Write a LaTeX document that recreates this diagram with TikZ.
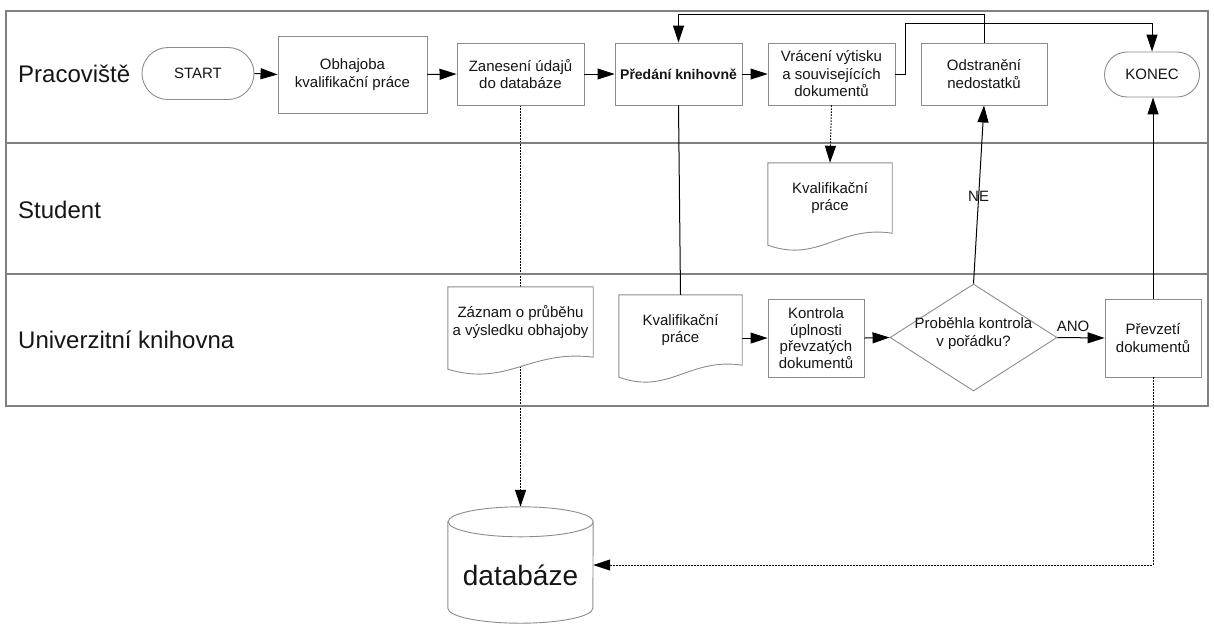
\documentclass[tikz,border=0pt]{standalone}
\usepackage{fontspec}
\setmainfont{Liberation Sans}
\usetikzlibrary{arrows.meta,shapes.geometric,shapes.misc,calc}
\pgfdeclarelayer{bg}
\pgfdeclarelayer{mid}
\pgfsetlayers{bg,mid,main}
\definecolor{frameg}{HTML}{808080}
\definecolor{boxg}{HTML}{8C8C8C}
\definecolor{txt}{HTML}{151515}
\newcommand\bxfont{\fontsize{15}{17.5}\selectfont}
\newcommand\docoutline[2]{%
  \draw[docline] (#1.north west) -- (#1.north east) -- (#1.south east)
    .. controls ($(#1.south west)+(0.57*#2,-8)$) and ($(#1.south west)+(0.41*#2,30)$) ..
    ($(#1.south west)+(0,12)$) -- cycle;}
\begin{document}
\begin{tikzpicture}[x=1pt,y=-1pt,
  frame/.style={draw=frameg,line width=1.4pt},
  proc/.style={rectangle,draw=boxg,line width=0.9pt,fill=white,inner sep=0pt,align=center,font=\bxfont,text=txt},
  term/.style={rounded rectangle,draw=boxg,line width=0.9pt,fill=white,inner sep=0pt,font=\bxfont,text=txt},
  decision/.style={diamond,draw=boxg,line width=0.9pt,fill=white,inner sep=0pt,font=\bxfont,text=txt},
  docnode/.style={rectangle,inner sep=0pt,minimum height=70pt,align=center,font=\bxfont,text=txt},
  docline/.style={draw=boxg,line width=0.9pt,fill=white},
  lanelbl/.style={anchor=west,inner sep=0pt,font=\fontsize{24}{28}\selectfont,text=txt},
  lbl/.style={inner sep=0pt,font=\bxfont,text=txt},
  conn/.style={draw=black,line width=1pt},
  arr/.style={conn,-{Triangle[length=17pt,width=11pt]}},
  dotarr/.style={arr,dash pattern=on 1.5pt off 1.5pt},
]
\useasboundingbox (0,0) rectangle (1214,624);
% swimlane frame
\draw[frame] (6,11) rectangle (1208,406);
\draw[frame] (6,143) -- (1208,143);
\draw[frame] (6,274) -- (1208,274);
\node[lanelbl] (lp) at (18,74) {Pracoviště};
\node[lanelbl] (ls) at (18,210) {Student};
\node[lanelbl] (lu) at (18,340) {Univerzitní knihovna};

% lane 1
\node[term,minimum width=112pt,minimum height=52pt] (start) at (198,73.5) {START};
\node[proc,minimum width=149pt,minimum height=77pt] (obh) at (352.5,74.5) {Obhajoba\\kvalifikační práce};
\node[proc,minimum width=127pt,minimum height=62pt] (zan) at (520.5,74) {Zanesení údajů\\do databáze};
\node[proc,minimum width=127pt,minimum height=62pt,font=\fontsize{14}{17}\selectfont\bfseries] (pred) at (678.5,74) {Předání knihovně};
\node[proc,minimum width=127pt,minimum height=62pt] (vrac) at (831.5,74) {Vrácení výtisku\\a souvisejících\\dokumentů};
\node[proc,minimum width=126pt,minimum height=62pt] (odst) at (984,74) {Odstranění\\nedostatků};
\node[term,minimum width=95pt,minimum height=45pt] (konec) at (1152,74.5) {KONEC};

% lane 2
\node[docnode,minimum width=124pt] (sdoc) at (830,198) {Kvalifikační\\práce};

% lane 3
\node[docnode,minimum width=145pt] (zaz) at (520.5,322) {Záznam o průběhu\\a výsledku obhajoby};
\node[docnode,minimum width=123pt] (kd) at (680.5,330) {Kvalifikační\\práce};
\node[proc,minimum width=96pt,minimum height=78pt,font=\fontsize{15}{16.5}\selectfont] (kon) at (816,338) {Kontrola\\úplnosti\\převzatých\\dokumentů};
\node[decision,minimum width=167pt,minimum height=107pt] (dia) at (973.5,337.5)
  {\makebox[0pt]{\smash{\begin{tabular}{@{}c@{}}Proběhla kontrola\\v pořádku?\end{tabular}}}};
\node[proc,minimum width=96pt,minimum height=78pt] (prev) at (1153,338) {Převzetí\\dokumentů};

% database
\node[inner sep=0pt,minimum width=145pt,minimum height=116pt,text height=40pt,text depth=0pt,
      font=\fontsize{28}{32}\selectfont,text=txt] (db) at (520.5,565) {databáze};

% document and cylinder outlines (below the text, above dotted line)
\begin{pgfonlayer}{mid}
\docoutline{sdoc}{124}
\docoutline{zaz}{145}
\docoutline{kd}{123}
\draw[docline] ($(db.north west)+(0,15)$) -- ($(db.south west)+(0,-15)$)
  arc[start angle=180,end angle=360,x radius=72.5pt,y radius=15pt]
  -- ($(db.north east)+(0,15)$)
  arc[start angle=0,end angle=180,x radius=72.5pt,y radius=15pt] -- cycle;
\draw[draw=boxg,line width=0.9pt] ($(db.north east)+(0,15)$)
  arc[start angle=0,end angle=-180,x radius=72.5pt,y radius=15pt];
\end{pgfonlayer}

\begin{pgfonlayer}{bg}
\draw[dotarr] (zan.south) -- (db.north);
\end{pgfonlayer}

% connectors
\draw[arr] (start.east) -- (obh.west);
\draw[arr] (obh.east) -- (zan.west);
\draw[arr] (zan.east) -- (pred.west);
\draw[arr] (pred.east) -- (vrac.west);
\draw[arr] (vrac.east) -- ++(10,0) -- ++(0,-51) -| (konec.north);
\draw[arr] (odst.north) -- ++(0,-28) -| (pred.north);
\draw[dotarr] (vrac.south) -- (sdoc.north);
\draw[conn] (pred.south) -- (kd.north);
\draw[arr] (kd.east |- kon.west) -- (kon.west);
\draw[arr] (kon.east) -- (dia.west);
\draw[arr] (dia.east) -- (prev.west) node[lbl,pos=0.33,above=6pt] (ano) {ANO};
\draw[arr] (dia.north) -- (odst.south) node[lbl,pos=0.49] (ne) {NE};
\draw[arr] (prev.north) -- (prev.north |- konec.south);
\draw[dotarr] (prev.south) |- (db.east);
\end{tikzpicture}
\end{document}
